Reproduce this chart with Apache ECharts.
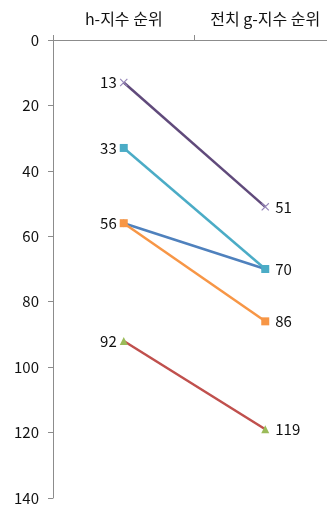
<!DOCTYPE html>
<html>
<head>
<meta charset="utf-8">
<script src="https://cdn.jsdelivr.net/npm/echarts@6/dist/echarts.min.js"></script>
<style>
  html, body { margin: 0; padding: 0; background: #fff; }
  #chart { width: 327px; height: 509px; }
</style>
</head>
<body>
<div id="chart"></div>
<script>
// Rank categories (x axis) and rank ticks (y axis)
const categories = ['h-지수 순위', '전치 g-지수 순위'];
const yTicks = [0, 20, 40, 60, 80, 100, 120, 140];

// Ranks of each item under the two indices
const rankPurple = [13, 51];
const rankTeal = [33, 70];
const rankBlue = [56, 70];
const rankOrange = [56, 86];
const rankRed = [92, 119];

const FONT = '"Noto Sans CJK KR", "Noto Sans", sans-serif';
const crossPath = 'path://M0,1L1,0L5,4L9,0L10,1L6,5L10,9L9,10L5,6L1,10L0,9L4,5Z';

function labelCfg(show) {
  return {
    show: show,
    position: 'left',
    distance: 3,
    color: '#111',
    fontSize: 15,
    fontFamily: FONT
  };
}

function makeSeries(name, data, lineColor, markColor, symbol, size, labels) {
  return {
    name: name,
    type: 'line',
    data: data.map((v, i) => ({
      value: v,
      label: Object.assign(labelCfg(labels), i === 1 ? { position: 'right', distance: 6 } : {})
    })),
    symbol: symbol,
    symbolSize: size,
    showAllSymbol: true,
    lineStyle: { color: lineColor, width: 2.5 },
    itemStyle: { color: markColor, borderWidth: 0 },
    emphasis: { disabled: true },
    animation: false
  };
}

const chart = echarts.init(document.getElementById('chart'), null, { renderer: 'canvas' });
chart.setOption({
  backgroundColor: '#ffffff',
  animation: false,
  grid: { left: 53, top: 40, width: 283, height: 458, outerBoundsMode: 'none', containLabel: false },
  xAxis: {
    type: 'category',
    position: 'top',
    data: categories,
    boundaryGap: true,
    axisLine: { lineStyle: { color: '#8c8c8c', width: 1 } },
    axisTick: { show: true, interval: 0, inside: false, length: 5, lineStyle: { color: '#8c8c8c' } },
    axisLabel: { interval: 0, hideOverlap: false, color: '#111', fontSize: 16, fontFamily: FONT, margin: 13 },
    splitLine: { show: false }
  },
  yAxis: {
    type: 'value',
    inverse: true,
    min: yTicks[0],
    max: yTicks[yTicks.length - 1],
    interval: 20,
    axisLine: { show: true, lineStyle: { color: '#8c8c8c', width: 1 } },
    axisTick: { show: true, length: 5, lineStyle: { color: '#8c8c8c' } },
    axisLabel: { hideOverlap: false, color: '#111', fontSize: 15, fontFamily: FONT, margin: 14 },
    splitLine: { show: false }
  },
  series: [
    makeSeries('blue', rankBlue, '#4F81BD', '#4F81BD', 'diamond', 8, false),
    makeSeries('purple', rankPurple, '#604A7B', '#9686B8', crossPath, 8, true),
    makeSeries('teal', rankTeal, '#4BACC6', '#4BACC6', 'rect', 8, true),
    makeSeries('orange', rankOrange, '#F79646', '#F79646', 'rect', 8, true),
    makeSeries('red', rankRed, '#C0504D', '#9BBB59', 'triangle', 8, true)
  ]
});
</script>
</body>
</html>
